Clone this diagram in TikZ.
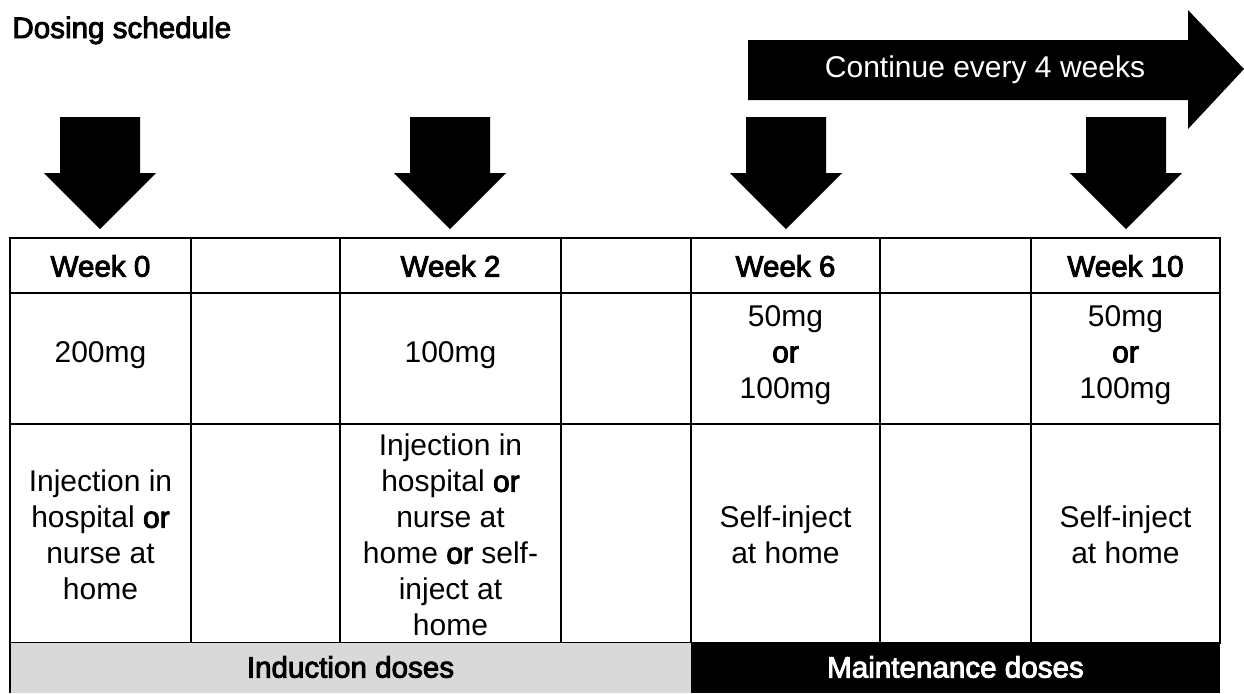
\documentclass[tikz,border=0pt]{standalone}
\usepackage{fontspec}
\setmainfont{Liberation Sans}
\newfontface\medweight{Liberation Sans}[FakeBold=3]
\usetikzlibrary{positioning}
\definecolor{inductgray}{HTML}{D9D9D9}
\tikzset{%
	grid/.style     = {draw, line width=1.1pt}, % table lines
	txt/.style      = {align=center, inner sep=0pt, font=\fontsize{15}{18}\selectfont},
	hdr/.style      = {align=center, inner sep=0pt, font=\fontsize{14.8}{18}\selectfont\medweight},
	dosearrow/.style= {fill=black},
}
\begin{document}
\begin{tikzpicture}[x=0.5pt,y=-0.5pt]
	\useasboundingbox (0,0) rectangle (1244,693);
	% title
	\node[hdr,anchor=base west] (title) at (12,38) {Dosing schedule};
	% continue arrow
	\fill[dosearrow] (748,40) -- (1188,40) -- (1188,10) -- (1244,69) -- (1188,129) -- (1188,100) -- (748,100) -- cycle;
	\node[txt,text=white] (cont) at (985,70) {Continue every 4 weeks};
	% dose arrows
	\foreach \c in {100,450,786,1126}
		\fill[dosearrow] (\c-40,117) -- (\c+40,117) -- (\c+40,173) -- (\c+56,173) -- (\c,229) -- (\c-56,173) -- (\c-40,173) -- cycle;
	% table
	\foreach \xa/\xb in {10/191,191/340,340/561,561/691,691/880,880/1031,1031/1220}
		\foreach \ya/\yb in {238/293,293/424,424/643}
			\draw[grid] (\xa,\ya) rectangle (\xb,\yb);
	\fill[inductgray] (10,643) rectangle (691,693);
	\draw[grid] (10,643) -- (10,693);
	\fill[black] (691,643) rectangle (1220,693);
	% weeks
	\node[hdr] (wk0) at (100.5,266) {Week 0};
	\node[hdr] (wk2) at (450.5,266) {Week 2};
	\node[hdr] (wk6) at (785.5,266) {Week 6};
	\node[hdr] (wk10) at (1125.5,266) {Week 10};
	% doses
	\node[txt] (d0) at (100.5,355) {200mg};
	\node[txt] (d2) at (450.5,355) {100mg};
	\node[txt] (d6) at (785.5,355) {50mg\\{\medweight or}\\100mg};
	\node[txt] (d10) at (1125.5,355) {50mg\\{\medweight or}\\100mg};
	% where
	\node[txt] (h0) at (100.5,535) {Injection in\\hospital {\medweight or}\\nurse at\\home};
	\node[txt] (h2) at (450.5,535) {Injection in\\hospital {\medweight or}\\nurse at\\home {\medweight or} self-\\inject at\\home};
	\node[txt] (h6) at (785.5,535) {Self-inject\\at home};
	\node[txt] (h10) at (1125.5,535) {Self-inject\\at home};
	% phases
	\node[hdr] (ind) at (350.5,667) {Induction doses};
	\node[hdr,text=white] (mnt) at (955.5,667) {Maintenance doses};
\end{tikzpicture}
\end{document}
